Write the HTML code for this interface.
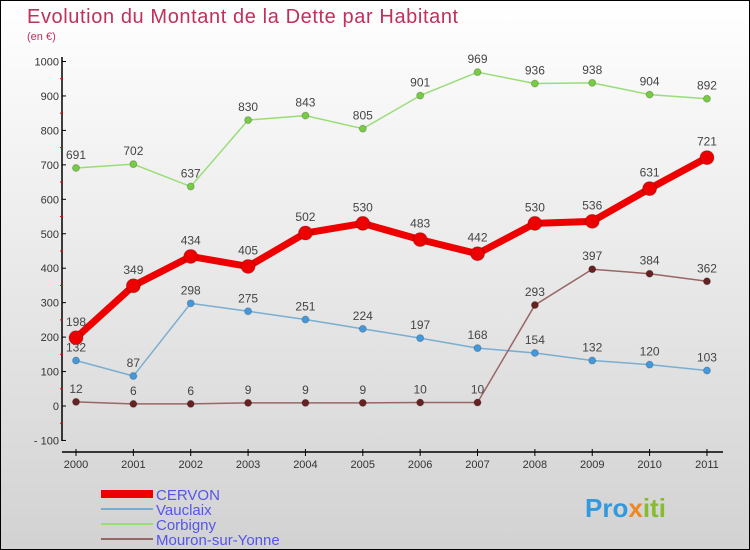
<!DOCTYPE html>
<html><head><meta charset="utf-8"><style>
body{margin:0}
#c{width:748px;height:548px;border:1px solid #000;background:linear-gradient(#ffffff,#d2d2d2);position:relative;overflow:hidden;font-family:"Liberation Sans",sans-serif}
</style></head><body>
<div id="c">
<svg id="s" width="748" height="548" xmlns="http://www.w3.org/2000/svg">
<text x="26" y="22" font-size="20" letter-spacing="0.6" fill="#c0305a">Evolution du Montant de la Dette par Habitant</text>
<text x="26" y="39" font-size="11" fill="#c0305a">(en €)</text>
<g id="axes"></g><g id="series"></g>
<g>
<rect x="100" y="489" width="52" height="8" fill="#ee0000"/>
<text x="155" y="499" font-size="15" fill="#5555ee">CERVON</text>
<line x1="100" y1="508" x2="152" y2="508" stroke="#7aaed0" stroke-width="2"/>
<text x="155" y="514" font-size="15" fill="#5555ee">Vauclaix</text>
<line x1="100" y1="523" x2="152" y2="523" stroke="#99dd77" stroke-width="2"/>
<text x="155" y="529" font-size="15" fill="#5555ee">Corbigny</text>
<line x1="100" y1="538" x2="152" y2="538" stroke="#996666" stroke-width="2"/>
<text x="155" y="544" font-size="15" fill="#5555ee">Mouron-sur-Yonne</text>
</g>
<text x="584" y="516" font-size="26" font-weight="bold"><tspan fill="#3399dd">Pro</tspan><tspan fill="#ee8822">x</tspan><tspan fill="#88bb33">iti</tspan></text>
</svg></div>
<script>
const years=[2000,2001,2002,2003,2004,2005,2006,2007,2008,2009,2010,2011];
const cervon=[198,349,434,405,502,530,483,442,530,536,631,721];
const vauclaix=[132,87,298,275,251,224,197,168,154,132,120,103];
const corbigny=[691,702,637,830,843,805,901,969,936,938,904,892];
const mouron=[12,6,6,9,9,9,10,10,293,397,384,362];
const yTicks=[-100,0,100,200,300,400,500,600,700,800,900,1000];
const NS="http://www.w3.org/2000/svg";
const X=i=>75+i*57.36, Y=v=>405-v*0.3445;
function mk(t,a,p){const e=document.createElementNS(NS,t);for(const k in a)e.setAttribute(k,a[k]);p.appendChild(e);return e;}
const ax=document.getElementById('axes');
let e=mk('line',{x1:61,y1:56,x2:61,y2:440,stroke:'#000','stroke-width':1.5},ax);


e=mk('line',{x1:61,y1:451,x2:722,y2:451,stroke:'#000','stroke-width':1.5},ax);


yTicks.forEach(v=>{
 mk('line',{x1:61,y1:Y(v),x2:65,y2:Y(v),stroke:'#000'},ax);
 if(v<1000) mk('line',{x1:59,y1:Y(v+50),x2:62,y2:Y(v+50),stroke:'#e00'},ax);
 const t=mk('text',{x:58,y:Y(v)+4,'font-size':11,fill:'#333','text-anchor':'end'},ax);t.textContent=v<0?'- '+(-v):v;
 
 
});
years.forEach((y,i)=>{
 mk('line',{x1:X(i),y1:448,x2:X(i),y2:455,stroke:'#000'},ax);
 const t=mk('text',{x:X(i),y:467,'font-size':11,fill:'#333','text-anchor':'middle'},ax);t.textContent=y;
 
 
});
const sg=document.getElementById('series');
function series(d,name,col,dot,w,r,lab){
 const g=mk('g',{},sg);
 
 
 mk('polyline',{points:d.map((v,i)=>X(i)+','+Y(v)).join(' '),fill:'none',stroke:col,'stroke-width':w,'stroke-linejoin':'round'},g);
 d.forEach((v,i)=>{
  const c=mk('circle',{cx:X(i),cy:Y(v),r:r,fill:dot,stroke:'#0003'},g);
  
  
  const t=mk('text',{x:X(i),y:Y(v)-lab,'font-size':12,fill:'#444','text-anchor':'middle'},g);t.textContent=v;
 });
}
series(corbigny,'corbigny','#99dd77','#77cc44',1.5,3.5,9);
series(vauclaix,'vauclaix','#7aaed0','#4499dd',1.5,3.5,9);
series(mouron,'mouron','#996666','#662222',1.5,3.5,9);
series(cervon,'cervon','#ee0000','#ee0000',7,7,12);
</script>
</body></html>
